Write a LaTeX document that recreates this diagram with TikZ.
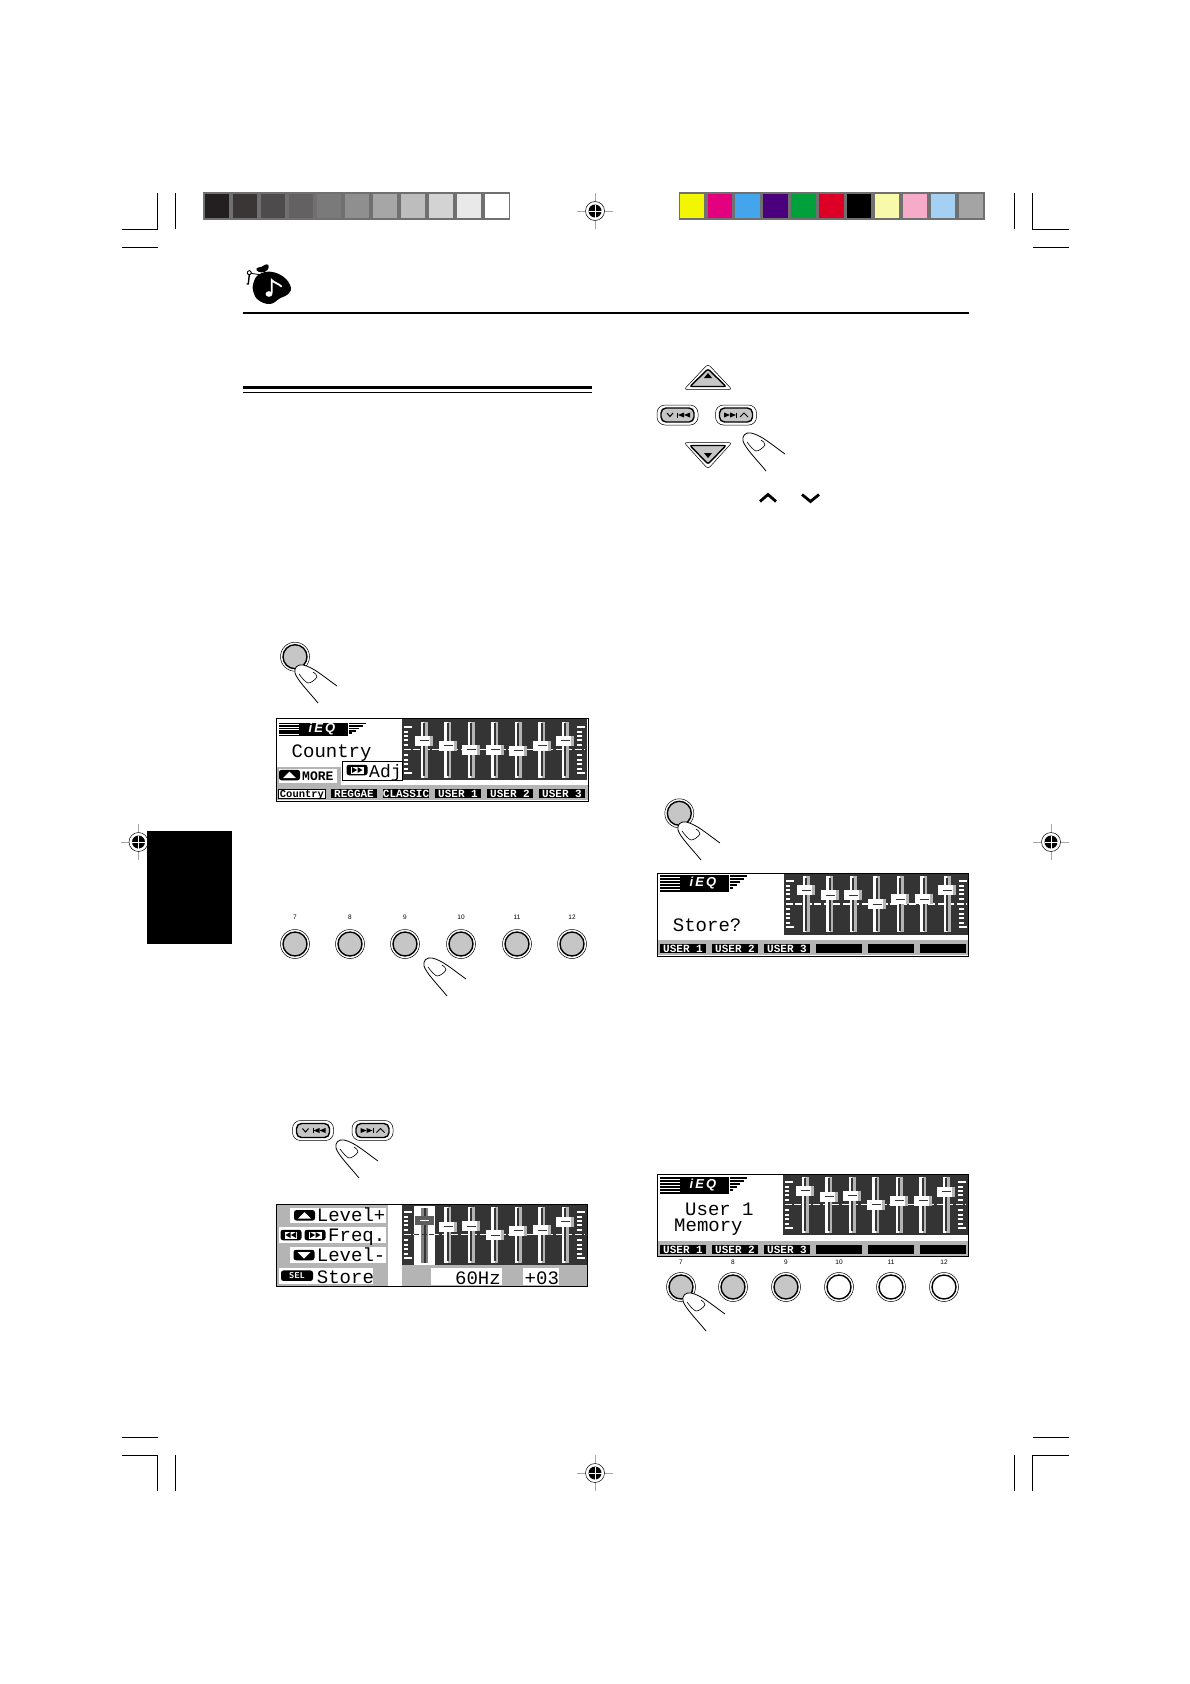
\documentclass[tikz,border=0pt]{standalone}
\usepackage{fontspec}
\setmainfont{Liberation Sans}
\setmonofont{Liberation Mono}
\newfontfamily\eqfont[LetterSpace=16]{Liberation Sans}
\usepackage{xcolor}
\definecolor{barGray}{HTML}{707070}
\definecolor{faceGray}{HTML}{C6C6C6}
\definecolor{lcdDark}{HTML}{343434}
\definecolor{lcdGray}{HTML}{B4B4B4}
\def\sliderGap{23.5}
\def\trackH{56}
\def\swatchW{24.4}

\newcommand{\cropv}[3]{\draw[cropline] (#1,#2) -- (#1,#3);}
\newcommand{\croph}[3]{\draw[cropline] (#2,#1) -- (#3,#1);}

\newcommand{\regmark}[2]{%
\draw[gray!70,line width=0.7] ({#1-18},#2) -- ({#1+18},#2);
\draw[gray!70,line width=0.7] (#1,{#2-18}) -- (#1,{#2+18});
\draw[line width=0.5,fill=white] (#1,#2) circle[radius=9.5];
\fill[black] (#1,#2) circle[radius=6.5];
\draw[white,line width=1] ({#1-6.5},#2) -- ({#1+6.5},#2);
\draw[white,line width=1] (#1,{#2-6.5}) -- (#1,{#2+6.5});
}

% finger, #1 #2 = tip
\newcommand{\fingertip}[2]{%
\begin{scope}[shift={(#1,#2)}]
\fill[white] (42,21) .. controls (28,11) and (18,2) .. (8,0)
  .. controls (2,-1) and (-1,3) .. (0,8)
  .. controls (2,15) and (15,28) .. (23,38) -- cycle;
\draw[line width=0.8] (42,21) .. controls (28,11) and (18,2) .. (8,0)
  .. controls (2,-1) and (-1,3) .. (0,8)
  .. controls (2,15) and (15,28) .. (23,38);
\draw[line width=0.6] (4,9) .. controls (7,13) and (10,17) .. (13,18)
  .. controls (16,18) and (20,15) .. (22,12)
  .. controls (22,10) and (20,8) .. (18,7);
\end{scope}
}

% #1 = name, #2 #3 = centre, #4 = face colour
\newcommand{\pushbtn}[4]{%
\node[btnring] (#1ring) at (#2,#3) {};
\node[btnface,fill=#4] (#1) at (#2,#3) {};
}

\newcommand{\prevbtn}[3]{%
\node[trackring] (#1ring) at (#2,#3) {};
\node[trackface] (#1) at (#2,#3) {};
\begin{scope}[shift={(#2,#3)}]
\draw[line width=1] (-10.5,-2) -- (-7.5,1.5) -- (-4.5,-2);
\draw[line width=0.8] (0,-2.5) -- (0,2.5);
\fill (0.5,0) -- (6.5,-2.5) -- (6.5,2.5) -- cycle;
\fill (6.5,0) -- (12.5,-2.5) -- (12.5,2.5) -- cycle;
\end{scope}
}

\newcommand{\nextbtn}[3]{%
\node[trackring] (#1ring) at (#2,#3) {};
\node[trackface] (#1) at (#2,#3) {};
\begin{scope}[shift={(#2,#3)}]
\fill (-6,0) -- (-12,-2.5) -- (-12,2.5) -- cycle;
\fill (0,0) -- (-6,-2.5) -- (-6,2.5) -- cycle;
\draw[line width=0.8] (0.5,-2.5) -- (0.5,2.5);
\draw[line width=1] (4,2) -- (8,-2) -- (12,2);
\end{scope}
}

% #1 = left of dark area, #2 = top of the tracks, #3 = knob offsets
\newcommand{\eqdisplay}[3]{%
\fill[lcdDark] (#1,{#2-2.5}) rectangle ({#1+184.5},{#2+58.5});
\foreach \tickY in {10,14,18,23,33,38,42,47} {
  \fill[white] ({#1+1.5},{#2+\tickY-0.8}) rectangle ({#1+6},{#2+\tickY+0.8});
  \fill[white] ({#1+175},{#2+\tickY-0.8}) rectangle ({#1+180},{#2+\tickY+0.8});
}
\foreach \tickY in {5,51} {
  \fill[white] ({#1+1.5},{#2+\tickY-0.8}) rectangle ({#1+10},{#2+\tickY+0.8});
  \fill[white] ({#1+175},{#2+\tickY-0.8}) rectangle ({#1+183},{#2+\tickY+0.8});
}
\draw[white,line width=1.5,dash pattern=on 7pt off 2.5pt] ({#1+1.5},{#2+28}) -- ({#1+183},{#2+28});
\foreach \knobY [count=\i from 0] in {#3} {
  \fill[white] ({#1+22+\i*\sliderGap-3.5},#2) rectangle ({#1+22+\i*\sliderGap},{#2+\trackH});
  \fill[lcdGray] ({#1+22+\i*\sliderGap},#2) rectangle ({#1+22+\i*\sliderGap+3.5},{#2+\trackH});
  \fill[lcdDark] ({#1+22+\i*\sliderGap-1},{#2+1.5}) rectangle ({#1+22+\i*\sliderGap+1},{#2+\trackH-1.5});
  \fill[white] ({#1+22+\i*\sliderGap-9},{#2+\knobY-5}) rectangle ({#1+22+\i*\sliderGap+9},{#2+\knobY+5});
  \fill[lcdGray] ({#1+22+\i*\sliderGap+6},{#2+\knobY-5}) rectangle ({#1+22+\i*\sliderGap+9},{#2+\knobY+5});
  \draw[lcdDark,line width=0.8] ({#1+22+\i*\sliderGap-4},{#2+\knobY}) -- ({#1+22+\i*\sliderGap+5},{#2+\knobY});
}
}

% #1 = name, #2 #3 = top left, #4 = height of a stripe unit
\newcommand{\eqlogo}[4]{%
\begin{scope}[shift={(#2,#3)},y=-#4pt]
\foreach \stripe in {0,...,5} {
  \fill[black] (0,{\stripe*3}) rectangle ({87-\stripe*3.5},{\stripe*3+2});
}
\fill[black] (20,0) rectangle (69,17);
\draw[white,line width=0.6] (69.5,0) -- (69.5,17);
\node[logotext] (#1) at (43,8.5) {\eqfont\bfseries\itshape iEQ};
\end{scope}
}

% #1 = prefix, #2 #3 = panel left and top of tabs, #4 = labels
\newcommand{\eqtabs}[4]{%
\fill[lcdGray] (#2,{#3-4}) rectangle ({#2+312},{#3+11});
\foreach \tabText [count=\i from 0] in {#4} {
  \node[lcdtab] (#1tab\i) at ({#2+26+\i*52},{#3+4.7}) {\tabText};
}
}

% #1 = name, #2 #3 = centre, #4 = +1 or -1 for direction
\newcommand{\skippill}[4]{%
\node[pill] (#1) at (#2,#3) {};
\begin{scope}[shift={(#2,#3)},xscale=#4]
\fill[white] (-6,-3.5) rectangle (6.5,3.5);
\fill[black] (0,0) -- (-5,-3) -- (-5,3) -- cycle;
\fill[black] (5.5,0) -- (0.5,-3) -- (0.5,3) -- cycle;
\end{scope}
}

\begin{document}
\begin{tikzpicture}[
    x=1pt,
    y=-1pt,
    cropline/.style={line width=0.8,black},
    btnring/.style={circle,draw,line width=0.5,minimum size=29pt,inner sep=0pt,fill=white},
    btnface/.style={circle,draw,line width=1.4,minimum size=24pt,inner sep=0pt},
    btnlabel/.style={inner sep=0pt,font=\fontsize{6.5}{6.5}\selectfont},
    trackring/.style={rectangle,rounded corners=8pt,draw,line width=0.5,minimum width=41pt,minimum height=20pt,inner sep=0pt,fill=white},
    trackface/.style={rectangle,rounded corners=5pt,draw,line width=1.4,minimum width=33pt,minimum height=14pt,inner sep=0pt,fill=faceGray},
    lcdtext/.style={inner sep=0pt,anchor=base west,font=\ttfamily\fontsize{19}{19}\selectfont},
    lcdtab/.style={inner sep=0pt,fill=black,text=white,minimum width=46.5pt,minimum height=9.5pt,text height=7pt,text depth=0pt,font=\ttfamily\bfseries\fontsize{11}{11}\selectfont},
    logotext/.style={inner sep=0pt,text=white,font=\fontsize{13}{13}\selectfont},
    pill/.style={rectangle,rounded corners=2.5pt,fill=black,inner sep=0pt,minimum width=21pt,minimum height=10.5pt},
    swatch/.style={inner sep=0pt,minimum width=\swatchW pt,minimum height=24.4pt}
]
\useasboundingbox (0,0) rectangle (1190,1684);

% colour bars
\fill[barGray] (203,192) rectangle (510,220);
\foreach \shade [count=\i from 0] in {231F20,3A3635,4D4B4B,636162,7A7A7A,8F8F8F,A6A6A6,BDBDBE,D3D3D3,E9E9E9,FFFFFF} {
  \definecolor{tmpShade}{HTML}{\shade}
  \node[swatch,fill=tmpShade] (gray\i) at ({216.7+\i*28},206) {};
}
\fill[barGray] (679,192) rectangle (985,220);
\foreach \shade [count=\i from 0] in {F2F600,E2007E,45A5EC,4A007C,00A13A,DC0026,000000,F8FAAA,F6ACC8,A4D0F4,A4A4A4} {
  \definecolor{tmpShade}{HTML}{\shade}
  \node[swatch,fill=tmpShade] (hue\i) at ({691.8+\i*27.9},206) {};
}

% crop marks
\cropv{157.3}{193}{229.5}
\cropv{175.3}{193}{229}
\croph{229.3}{122}{157.5}
\croph{247.3}{122}{158}
\cropv{1014.3}{193}{229}
\cropv{1032.3}{193}{229.5}
\croph{229.3}{1032}{1069}
\croph{247.3}{1033}{1069}
\cropv{157.3}{1455}{1491}
\cropv{175.3}{1455}{1491}
\croph{1437}{122}{158}
\croph{1455}{122}{157.7}
\cropv{1014.3}{1455}{1491}
\cropv{1032.3}{1455}{1491}
\croph{1437}{1033}{1069}
\croph{1455}{1032}{1069}
\regmark{595}{211}
\regmark{595}{1473}
\regmark{138.5}{842}
\regmark{1051}{842}

% header
\fill[black] plot[smooth cycle,tension=0.7] coordinates {(253.3,283.3) (258.3,275) (270,271.7) (283.3,276.7) (290.7,286.7) (288.3,294) (280,298.3) (270,304) (258.3,300) (253.3,291.7)};
\fill[black] plot[smooth cycle,tension=0.8] coordinates {(256.7,268.3) (261.7,266.7) (266.7,264.3) (268.7,267.3) (265,271.7) (258.3,271.7)};
\draw[line width=0.9] (249.3,272.7) circle[radius=2];
\draw[line width=1.4] (249.3,274.7) -- (248.3,284) -- (246.5,284);
\draw[line width=0.8] (251,273.3) -- (261.7,275);
\fill[white] (269,294) ellipse[x radius=3.4,y radius=2.8];
\draw[white,line width=1.8] (271.7,293) -- (271.7,280) .. controls (274,283) and (278,283) .. (281.7,286.7);

\fill[black] (243,311.8) rectangle (969,313.8);
\fill[black] (243,385.7) rectangle (592,389);
\fill[black] (243,392) rectangle (592,393);
\fill[black] (147,831) rectangle (232,944);

% arrow keys
\draw[line width=0.5,rounded corners=3pt,fill=white] (708,364) -- (732,389.5) -- (684,389.5) -- cycle;
\draw[line width=1.4,rounded corners=2pt,fill=faceGray] (708,369) -- (726,386.5) -- (690,386.5) -- cycle;
\fill[black] (708,373) -- (712,378) -- (704,378) -- cycle;
\prevbtn{prevTop}{677.5}{415}
\nextbtn{nextTop}{736}{415}
\draw[line width=0.5,rounded corners=3pt,fill=white] (684,442.5) -- (732,442.5) -- (708,469) -- cycle;
\draw[line width=1.4,rounded corners=2pt,fill=faceGray] (690,445.5) -- (726,445.5) -- (708,464) -- cycle;
\fill[black] (704,453) -- (712,453) -- (708,458) -- cycle;
\fingertip{743}{433}
\draw[line width=2.8] (760,501.5) -- (768,494.5) -- (776,501.5);
\draw[line width=2.8] (802,494.5) -- (810.5,501.5) -- (819,494.5);

% preset button and first display
\pushbtn{modeLeft}{295}{656.7}{faceGray}
\fingertip{295}{665}
\draw[line width=1,fill=white] (276,718) rectangle (588,801);
\eqlogo{logoCountry}{279}{722.7}{0.8}
\node[lcdtext] (nameCountry) at (291.5,757.3) {Country};
\eqdisplay{402}{721.7}{19,24,28,28,29,24,19}
\fill[lcdGray] (276.5,767) rectangle (341,785);
\fill[white] (279,769) rectangle (337,783);
\node[pill] (pillMore) at (289.5,775) {};
\fill[white] (289.5,771.5) -- (296,778) -- (283,778) -- cycle;
\node[lcdtext,font=\ttfamily\bfseries\fontsize{13}{13}\selectfont] (textMore) at (302,780.5) {MORE};
\draw[line width=1,fill=white] (342,761) rectangle (402,780);
\skippill{pillAdj}{357}{770}{1}
\node[lcdtext,font=\ttfamily\fontsize{18}{18}\selectfont] (textAdj) at (369,777) {Adj};
\eqtabs{first}{276}{789}{{},REGGAE,CLASSIC,USER 1,USER 2,USER 3}
\node[lcdtab,fill=white,text=black,draw,line width=0.6,font=\ttfamily\bfseries\fontsize{10.5}{10.5}\selectfont] (tabCountry) at (302,793.7) {Country};
\draw[line width=1] (276,718) rectangle (588,801);

% number keys
\foreach \keyX/\keyText in {295/7,350/8,405/9,461/10,517/11,572/12} {
  \node[btnlabel] (numUp\keyText) at (\keyX,917) {\keyText};
  \pushbtn{keyUp\keyText}{\keyX}{944}{faceGray}
}
\fingertip{424}{958}

% level keys and second display
\prevbtn{prevLevel}{313}{1130.5}
\nextbtn{nextLevel}{372.5}{1130.5}
\fingertip{336}{1140}
\draw[line width=1,fill=white] (276,1204) rectangle (587,1286);
\fill[lcdGray] (276,1204) rectangle (388,1286);
\fill[white] (290,1207.7) rectangle (385.7,1222.7);
\fill[white] (279,1227) rectangle (385.7,1243.3);
\fill[white] (290,1247.3) rectangle (385.7,1262.7);
\fill[white] (279,1268.3) rectangle (373.3,1284.3);
\node[pill] (pillUp) at (304.5,1215.3) {};
\fill[white] (304.5,1212) -- (311,1218.5) -- (298,1218.5) -- cycle;
\skippill{pillBack}{291}{1235}{-1}
\skippill{pillFwd}{315}{1235}{1}
\node[pill] (pillDown) at (304,1255) {};
\fill[white] (297.5,1252) -- (310.5,1252) -- (304,1258.5) -- cycle;
\node[pill,minimum width=32pt,text=white,font=\sffamily\bfseries\fontsize{8.5}{8.5}\selectfont] (pillSel) at (297,1275.7) {SEL};
\node[lcdtext] (textLevelUp) at (316.7,1221.7) {Level+};
\node[lcdtext] (textFreq) at (328,1241.7) {Freq.};
\node[lcdtext] (textLevelDown) at (316.7,1261.7) {Level-};
\node[lcdtext] (textStore) at (316.7,1283) {Store};
\eqdisplay{402}{1206.7}{14,20,19.3,28.3,24,23.3,15}
\fill[white] (414,1206) rectangle (435,1265);
\fill[gray] (421,1207.5) rectangle (428,1263);
\fill[lcdDark] (423.5,1207.5) rectangle (425.5,1263);
\fill[lcdDark!80] (415,1216.2) rectangle (433.5,1225.2);
\draw[white,line width=0.8] (420,1220.7) -- (429,1220.7);
\draw[lcdDark,line width=1.2,dash pattern=on 5pt off 2.5pt] (414,1234.7) -- (435,1234.7);
\fill[lcdGray] (402,1265) rectangle (587,1286);
\fill[white] (431,1268) rectangle (502,1285);
\fill[white] (523,1268) rectangle (559,1285);
\node[lcdtext,anchor=base east] (textHz) at (501,1284) {60Hz};
\node[lcdtext] (textGain) at (524.5,1284) {+03};
\draw[line width=1] (276,1204) rectangle (587,1286);

% store display
\pushbtn{modeRight}{679.3}{813.3}{faceGray}
\fingertip{678}{822}
\draw[line width=1,fill=white] (657,873) rectangle (968,956);
\eqlogo{logoStore}{660}{875}{1}
\eqdisplay{784}{876}{14,19,19,28,23,23,14}
\node[lcdtext] (textAsk) at (672.7,931.7) {Store?};
\eqtabs{store}{657}{944}{USER 1,USER 2,USER 3,{},{},{}}
\draw[line width=1] (657,873) rectangle (968,956);

% memory display
\draw[line width=1,fill=white] (657,1174) rectangle (968,1256);
\eqlogo{logoMem}{660}{1177}{1}
\eqdisplay{783}{1176.7}{14,20,19,28,24,24,15}
\node[lcdtext] (textUser) at (685,1215.7) {User 1};
\node[lcdtext] (textMemory) at (674,1231.7) {Memory};
\eqtabs{mem}{657}{1245}{USER 1,USER 2,USER 3,{},{},{}}
\draw[line width=1] (657,1174) rectangle (968,1256);
\foreach \keyX/\keyText/\keyFace in {681/7/faceGray,733/8/faceGray,786/9/faceGray,839/10/white,891/11/white,944/12/white} {
  \node[btnlabel] (numLow\keyText) at (\keyX,1262) {\keyText};
  \pushbtn{keyLow\keyText}{\keyX}{1287}{\keyFace}
}
\fingertip{683}{1293}
\end{tikzpicture}
\end{document}
